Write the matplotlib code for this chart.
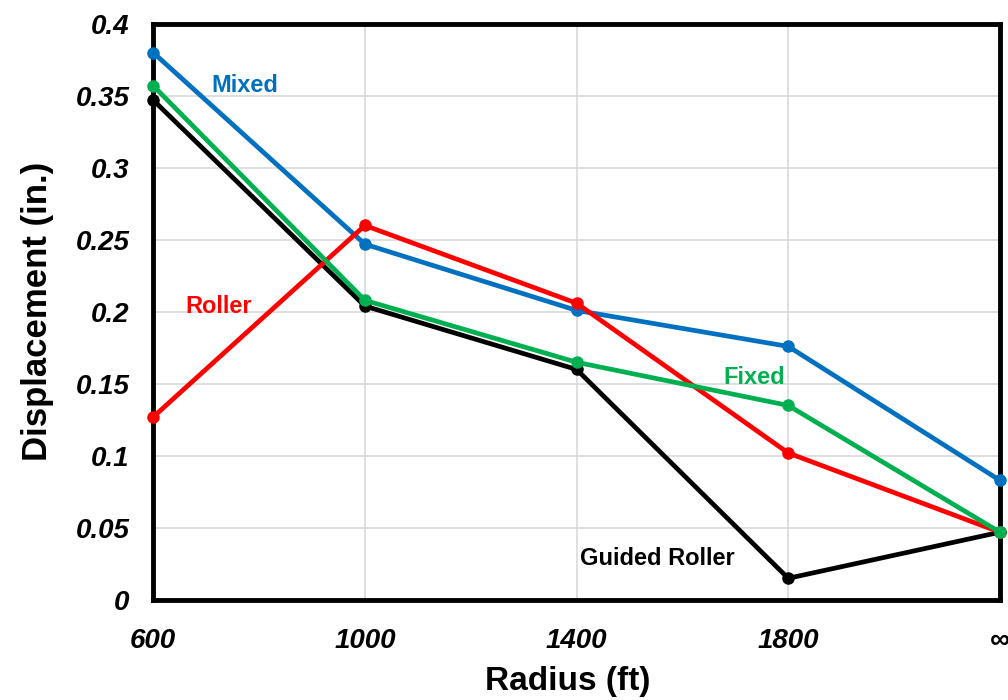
import numpy as np
import matplotlib.pyplot as plt

plt.rcParams['font.family'] = ['Liberation Sans', 'DejaVu Sans']

radius = ['600', '1000', '1400', '1800', '\u221e']
mixed = [0.380, 0.247, 0.201, 0.176, 0.083]
roller = [0.127, 0.260, 0.206, 0.102, 0.047]
fixed = [0.357, 0.208, 0.165, 0.135, 0.047]
guided = [0.347, 0.204, 0.160, 0.015, 0.047]

x = np.arange(len(radius))

fig = plt.figure(figsize=(10.08, 7), dpi=100)
ax = fig.add_axes([0.152, 0.143, 0.840, 0.823])

style = dict(lw=3.4, marker='o', ms=8, clip_on=False)
ax.plot(x, guided, color='black', zorder=3, **style)
ax.plot(x, mixed, color='#0070C0', zorder=4, **style)
ax.plot(x, roller, color='#FF0000', zorder=5, **style)
ax.plot(x, fixed, color='#00B050', zorder=6, **style)

# series labels
ax.text(0.435, 0.357, 'Mixed', color='#0070C0', fontsize=17, fontweight='bold', ha='center', va='center')
ax.text(0.31, 0.2035, 'Roller', color='#FF0000', fontsize=17, fontweight='bold', ha='center', va='center')
ax.text(2.84, 0.1545, 'Fixed', color='#00B050', fontsize=17, fontweight='bold', ha='center', va='center')
ax.text(2.38, 0.0285, 'Guided Roller', color='black', fontsize=17, fontweight='bold', ha='center', va='center')

ax.set_xlim(0, 4)
ax.set_ylim(0, 0.4)
ax.set_xticks(x)
ax.set_xticklabels(radius)
ax.set_yticks(np.arange(0, 0.41, 0.05))
ax.set_yticklabels(['0', '0.05', '0.1', '0.15', '0.2', '0.25', '0.3', '0.35', '0.4'])
ax.grid(True, color='#D9D9D9', lw=1.2)
ax.set_axisbelow(True)
ax.tick_params(length=0, labelsize=20)
ax.tick_params(axis='y', pad=17)
ax.tick_params(axis='x', pad=20)
for lab in ax.get_xticklabels() + ax.get_yticklabels():
    lab.set_fontweight('bold')
    lab.set_fontstyle('italic')
for s in ax.spines.values():
    s.set_linewidth(3.5)
    s.set_color('black')

ax.set_xlabel('Radius (ft)', fontsize=24, fontweight='bold', labelpad=8)
ax.xaxis.set_label_coords(0.49, -0.115)
ax.set_ylabel('Displacement (in.)', fontsize=25, fontweight='bold', labelpad=16)

fig.savefig('out.png', dpi=100)
